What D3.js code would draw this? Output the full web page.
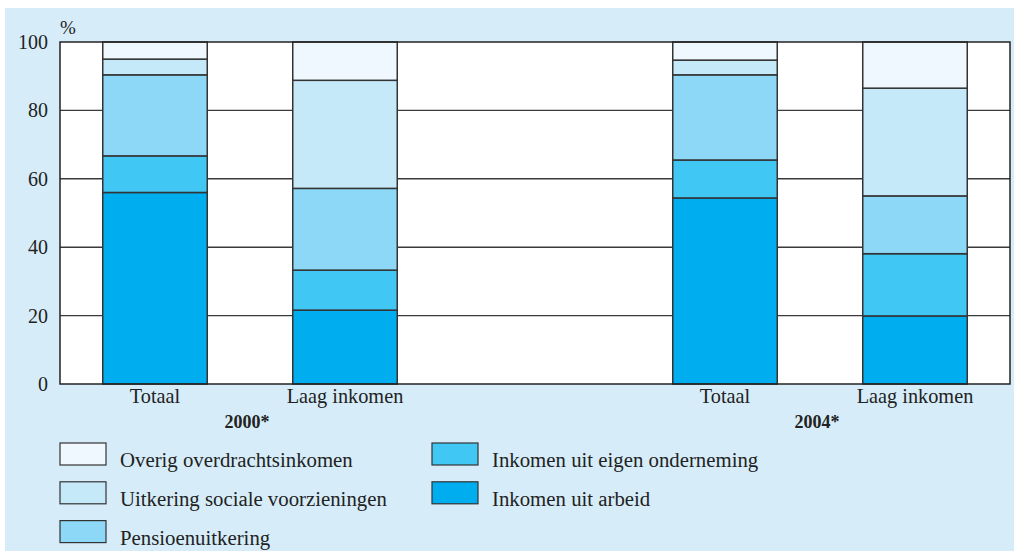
<!DOCTYPE html>
<html><head><meta charset="utf-8">
<script src="https://cdn.jsdelivr.net/npm/d3@7"></script>
<style>
html,body{margin:0;padding:0;background:#fff;}
svg{display:block;}
text{font-family:"Liberation Serif","DejaVu Serif",serif;fill:#222;}
</style></head>
<body>
<svg id="chart" width="1014" height="551"></svg>
<script>
// Data
const slots = ["T2000", "L2000", "gap", "T2004", "L2004"];
const categories = ["T2000", "L2000", "T2004", "L2004"];
const categoryLabels = ["Totaal", "Laag inkomen", "Totaal", "Laag inkomen"];
const years = ["2000*", "2004*"];
const seriesNames = ["Inkomen uit arbeid", "Inkomen uit eigen onderneming", "Pensioenuitkering", "Uitkering sociale voorzieningen", "Overig overdrachtsinkomen"];
const arbeid    = [56.0, 21.6, 54.4, 19.9];
const eigen     = [10.7, 11.7, 11.1, 18.2];
const pensioen  = [23.7, 23.9, 24.9, 16.9];
const uitkering = [4.6, 31.6, 4.3, 31.5];
const overig    = [5.0, 11.2, 5.3, 13.5];
const yTicks = [0, 20, 40, 60, 80, 100];
const colors = ["#00aeef", "#40c7f4", "#8dd8f6", "#c5e9f9", "#eef8fe"];

const svg = d3.select("#chart");
svg.append("rect").attr("x", 5).attr("y", 8).attr("width", 1009).attr("height", 543).attr("fill", "#d6edf9");

const m = {left: 60, right: 1010, top: 42, bottom: 384};
const x = d3.scaleBand().domain(slots).range([m.left, m.right]).paddingInner(0.45).paddingOuter(0.225);
const y = d3.scaleLinear().domain([0, 100]).range([m.bottom, m.top]);

svg.append("rect").attr("x", m.left).attr("y", m.top).attr("width", m.right - m.left).attr("height", m.bottom - m.top).attr("fill", "#fff");

// gridlines
svg.append("g").selectAll("line").data(yTicks.filter(t => t > 0 && t < 100)).join("line")
  .attr("x1", m.left).attr("x2", m.right).attr("y1", d => y(d)).attr("y2", d => y(d))
  .attr("stroke", "#3a3a3a").attr("stroke-width", 1.4);

// stacked bars
const rows = categories.map((c, i) => ({cat: c, s0: arbeid[i], s1: eigen[i], s2: pensioen[i], s3: uitkering[i], s4: overig[i]}));
const stack = d3.stack().keys(["s0", "s1", "s2", "s3", "s4"])(rows);
svg.append("g").selectAll("g").data(stack).join("g")
  .attr("fill", (d, i) => colors[i])
  .selectAll("rect").data(d => d).join("rect")
  .attr("x", d => x(d.data.cat)).attr("width", x.bandwidth())
  .attr("y", d => y(Math.min(100, d[1]))).attr("height", d => y(d[0]) - y(Math.min(100, d[1])))
  .attr("stroke", "#333").attr("stroke-width", 1.5);

// plot frame
svg.append("rect").attr("x", m.left).attr("y", m.top).attr("width", m.right - m.left).attr("height", m.bottom - m.top)
  .attr("fill", "none").attr("stroke", "#222").attr("stroke-width", 1.5);

// y axis
const yAxis = d3.axisLeft(y).tickValues(yTicks).tickSize(0).tickPadding(12);
const ga = svg.append("g").attr("transform", `translate(${m.left},0)`).call(yAxis);
ga.select(".domain").remove();
ga.selectAll("text").attr("font-size", 20).attr("font-family", "Liberation Serif").attr("fill", "#222");
svg.append("text").attr("x", 60).attr("y", 34).attr("font-size", 19).text("%");

// category labels
svg.append("g").selectAll("text").data(categories).join("text")
  .attr("x", d => x(d) + x.bandwidth() / 2).attr("y", 403).attr("text-anchor", "middle")
  .attr("font-size", 20.3).text((d, i) => categoryLabels[i]);
// year labels
const yearPos = [["T2000", "L2000"], ["T2004", "L2004"]];
svg.append("g").selectAll("text").data(years).join("text")
  .attr("x", (d, i) => (x(yearPos[i][0]) + x(yearPos[i][1]) + x.bandwidth()) / 2 - 3)
  .attr("y", 428).attr("text-anchor", "middle").attr("font-weight", "bold").attr("font-size", 18).text(d => d);

// legend
const legendItems = [
  {name: seriesNames[4], color: colors[4], col: 0, row: 0},
  {name: seriesNames[3], color: colors[3], col: 0, row: 1},
  {name: seriesNames[2], color: colors[2], col: 0, row: 2},
  {name: seriesNames[1], color: colors[1], col: 1, row: 0},
  {name: seriesNames[0], color: colors[0], col: 1, row: 1}
];
const lg = svg.append("g").selectAll("g").data(legendItems).join("g")
  .attr("transform", d => `translate(${d.col ? 432 : 60},${443 + d.row * 38.8})`);
lg.append("rect").attr("width", 46).attr("height", 22).attr("fill", d => d.color).attr("stroke", "#333").attr("stroke-width", 1.2);
lg.append("text").attr("x", 60).attr("y", 24).attr("font-size", 20.8).text(d => d.name);
</script>
</body></html>
